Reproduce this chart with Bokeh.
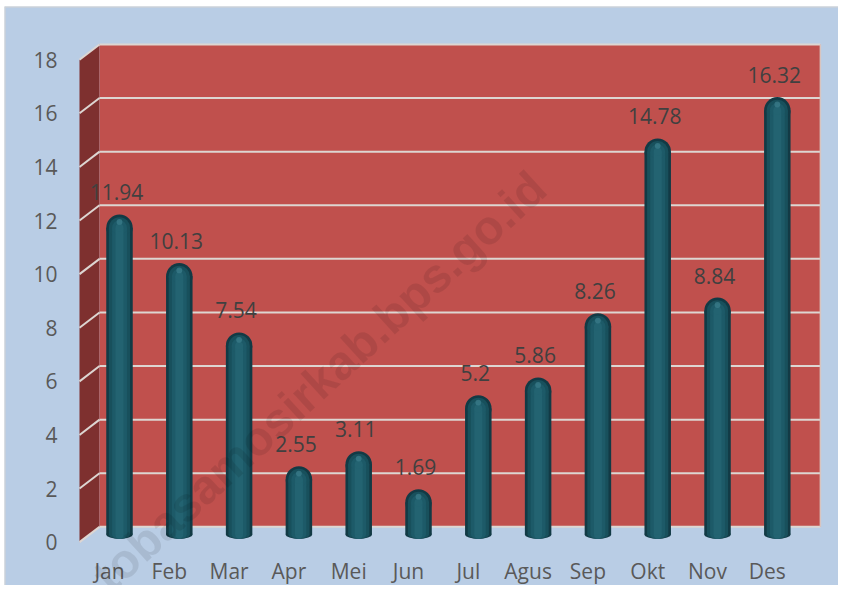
from bokeh.plotting import figure
from bokeh.models import Range1d, Label, Span
from bokeh.core.properties import value
from bokeh.embed import file_html
from bokeh.resources import INLINE

# ---- data ----
months = ["Jan", "Feb", "Mar", "Apr", "Mei", "Jun", "Jul", "Agus", "Sep", "Okt", "Nov", "Des"]
values = [11.94, 10.13, 7.54, 2.55, 3.11, 1.69, 5.2, 5.86, 8.26, 14.78, 8.84, 16.32]
value_labels = ["11.94", "10.13", "7.54", "2.55", "3.11", "1.69", "5.2", "5.86", "8.26", "14.78", "8.84", "16.32"]
y_ticks = [0, 2, 4, 6, 8, 10, 12, 14, 16, 18]
y_tick_labels = ["0", "2", "4", "6", "8", "10", "12", "14", "16", "18"]
watermark = "tobasamosirkab.bps.go.id"

# ---- geometry / style ----
BAR_W = 0.443
DOME_H = 0.99
D = 0.285            # half depth offset (3D look)
WALL_F = -0.669      # front edge of side wall
WALL_B = -0.334      # back edge of side wall
WALL_R = 11.72       # right edge of back wall
Y_MAX = 18
X0, X1 = -1.923, 12.023
Y0, Y1 = -1.903, 19.701
FONT = "Open Sans"
FS = "21px"

xs = list(range(len(months)))
tops = [v - DOME_H / 2 for v in values]

p = figure(width=838, height=585,
           x_range=Range1d(X0, X1), y_range=Range1d(Y0, Y1),
           output_backend="svg", toolbar_location=None,
           min_border_left=4, min_border_top=6, min_border_right=0, min_border_bottom=0,
           background_fill_color="#b9cde5", border_fill_color="white",
           outline_line_color=None)
p.axis.visible = False
p.grid.visible = False

# chart border (left/top visible in frame)
p.add_layout(Span(location=X0, dimension="height", line_color="#d4d4d4", line_width=2))
p.add_layout(Span(location=Y1, dimension="width", line_color="#d4d4d4", line_width=2))

# side wall
p.patch([WALL_F, WALL_F, WALL_B, WALL_B], [-D, Y_MAX - D, Y_MAX + D, D],
        color="#7e302f", line_color=None)
# back wall
p.quad(left=WALL_B, right=WALL_R, bottom=D, top=Y_MAX + D, color="#c0504d", line_color=None)

# gridlines
n = len(y_ticks)
p.segment(x0=[WALL_B] * n, y0=[t + D for t in y_ticks], x1=[WALL_R] * n, y1=[t + D for t in y_ticks],
          line_color="#ddd6d2", line_width=2)
p.segment(x0=[WALL_F] * n, y0=[t - D for t in y_ticks], x1=[WALL_B] * n, y1=[t + D for t in y_ticks],
          line_color="#ddd6d2", line_width=2)
p.segment(x0=[WALL_R], y0=[D], x1=[WALL_R], y1=[Y_MAX + D], line_color="#d8c4c0", line_width=1.5)

# cylinders
shades = [(1.0, "#123a45"), (0.8, "#18505c"), (0.56, "#1d5a68"), (0.3, "#236371")]
zeros = [0] * len(xs)
for f, c in shades:
    p.ellipse(x=xs, y=zeros, width=BAR_W * f, height=0.32, color=c, line_color=None)
    p.vbar(x=xs, bottom=0, top=tops, width=BAR_W * f, color=c, line_color=None)
    p.ellipse(x=xs, y=tops, width=BAR_W * f, height=DOME_H * f, color=c, line_color=None)
p.ellipse(x=xs, y=[t + DOME_H * 0.22 for t in tops], width=BAR_W * 0.22, height=DOME_H * 0.22,
          color="#3d7f8d", alpha=0.7, line_color=None)

# value labels
p.text(x=xs, y=values, text=value_labels, text_font=value(FONT), text_font_size=FS,
       text_color="#404040", text_align="center", text_baseline="middle",
       x_offset=-3, y_offset=-22)

# month labels
p.text(x=xs, y=[-D] * len(xs), text=months, text_font=value(FONT), text_font_size=FS,
       text_color="#595959", text_align="center", text_baseline="middle",
       x_offset=-10, y_offset=29)

# y tick labels
p.text(x=[WALL_F] * n, y=[t - D for t in y_ticks], text=y_tick_labels, text_font=value(FONT),
       text_font_size=FS, text_color="#595959", text_align="right", text_baseline="middle",
       x_offset=-22)

# watermark
p.add_layout(Label(x=534, y=405, x_units="screen", y_units="screen", text=watermark,
                   text_font="Liberation Sans", text_font_style="bold", text_font_size="48px",
                   text_color="black", text_alpha=0.09, angle=0.742,
                   text_align="right", text_baseline="middle"))

open("out.html", "w").write(file_html(p, INLINE))
